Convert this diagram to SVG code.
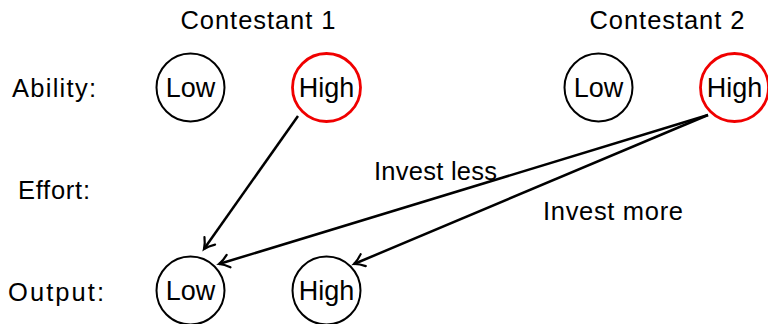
<svg xmlns="http://www.w3.org/2000/svg" width="768" height="324" viewBox="0 0 768 324">
<defs>
<marker id="arr" markerWidth="16" markerHeight="16" refX="12" refY="8" orient="auto" markerUnits="userSpaceOnUse">
<path d="M2,1.5 Q7,6 12,8 Q7,10 2,14.5" fill="none" stroke="#000" stroke-width="2.2" stroke-linecap="round"/>
</marker>
</defs>
<style>
text{font-family:"Liberation Sans","DejaVu Sans",sans-serif;font-size:25.5px;fill:#000}
.n{fill:#fff;stroke:#000;stroke-width:2}
.r{fill:#fff;stroke:#f00000;stroke-width:2.8}
.c{fill:none;stroke:#000;stroke-width:2.5;marker-end:url(#arr)}
.m{text-anchor:middle}
.k{font-size:27px}
</style>
<g id="labels">
<text x="258" y="29" class="m" textLength="155">Contestant 1</text>
<text x="667" y="29" class="m" textLength="155">Contestant 2</text>
<text x="12" y="97" textLength="84">Ability:</text>
<text x="18" y="199" textLength="72">Effort:</text>
<text x="8" y="301" textLength="96">Output:</text>
</g>
<g id="c1-low"><circle class="n" cx="190.5" cy="87.5" r="34"/><text x="190.5" y="97" class="m k">Low</text></g>
<g id="c1-high"><circle class="r" cx="326.5" cy="87.5" r="34"/><text x="326.5" y="97" class="m k">High</text></g>
<g id="c2-low"><circle class="n" cx="598.5" cy="87.5" r="34"/><text x="598.5" y="97" class="m k">Low</text></g>
<g id="c2-high"><circle class="r" cx="734.5" cy="87.5" r="34"/><text x="734.5" y="97" class="m k">High</text></g>
<g id="out-low"><circle class="n" cx="190.5" cy="290.5" r="34"/><text x="190.5" y="300" class="m k">Low</text></g>
<g id="out-high"><circle class="n" cx="326.5" cy="290.5" r="34"/><text x="326.5" y="300" class="m k">High</text></g>
<g id="connectors">
<path class="c" d="M298,116 L204,249"/>
<path class="c" d="M708,115 L219,264"/>
<path class="c" d="M708,115 L354,264"/>
<text x="374" y="180" textLength="123">Invest less</text>
<text x="543" y="220" textLength="140">Invest more</text>
</g>
</svg>
